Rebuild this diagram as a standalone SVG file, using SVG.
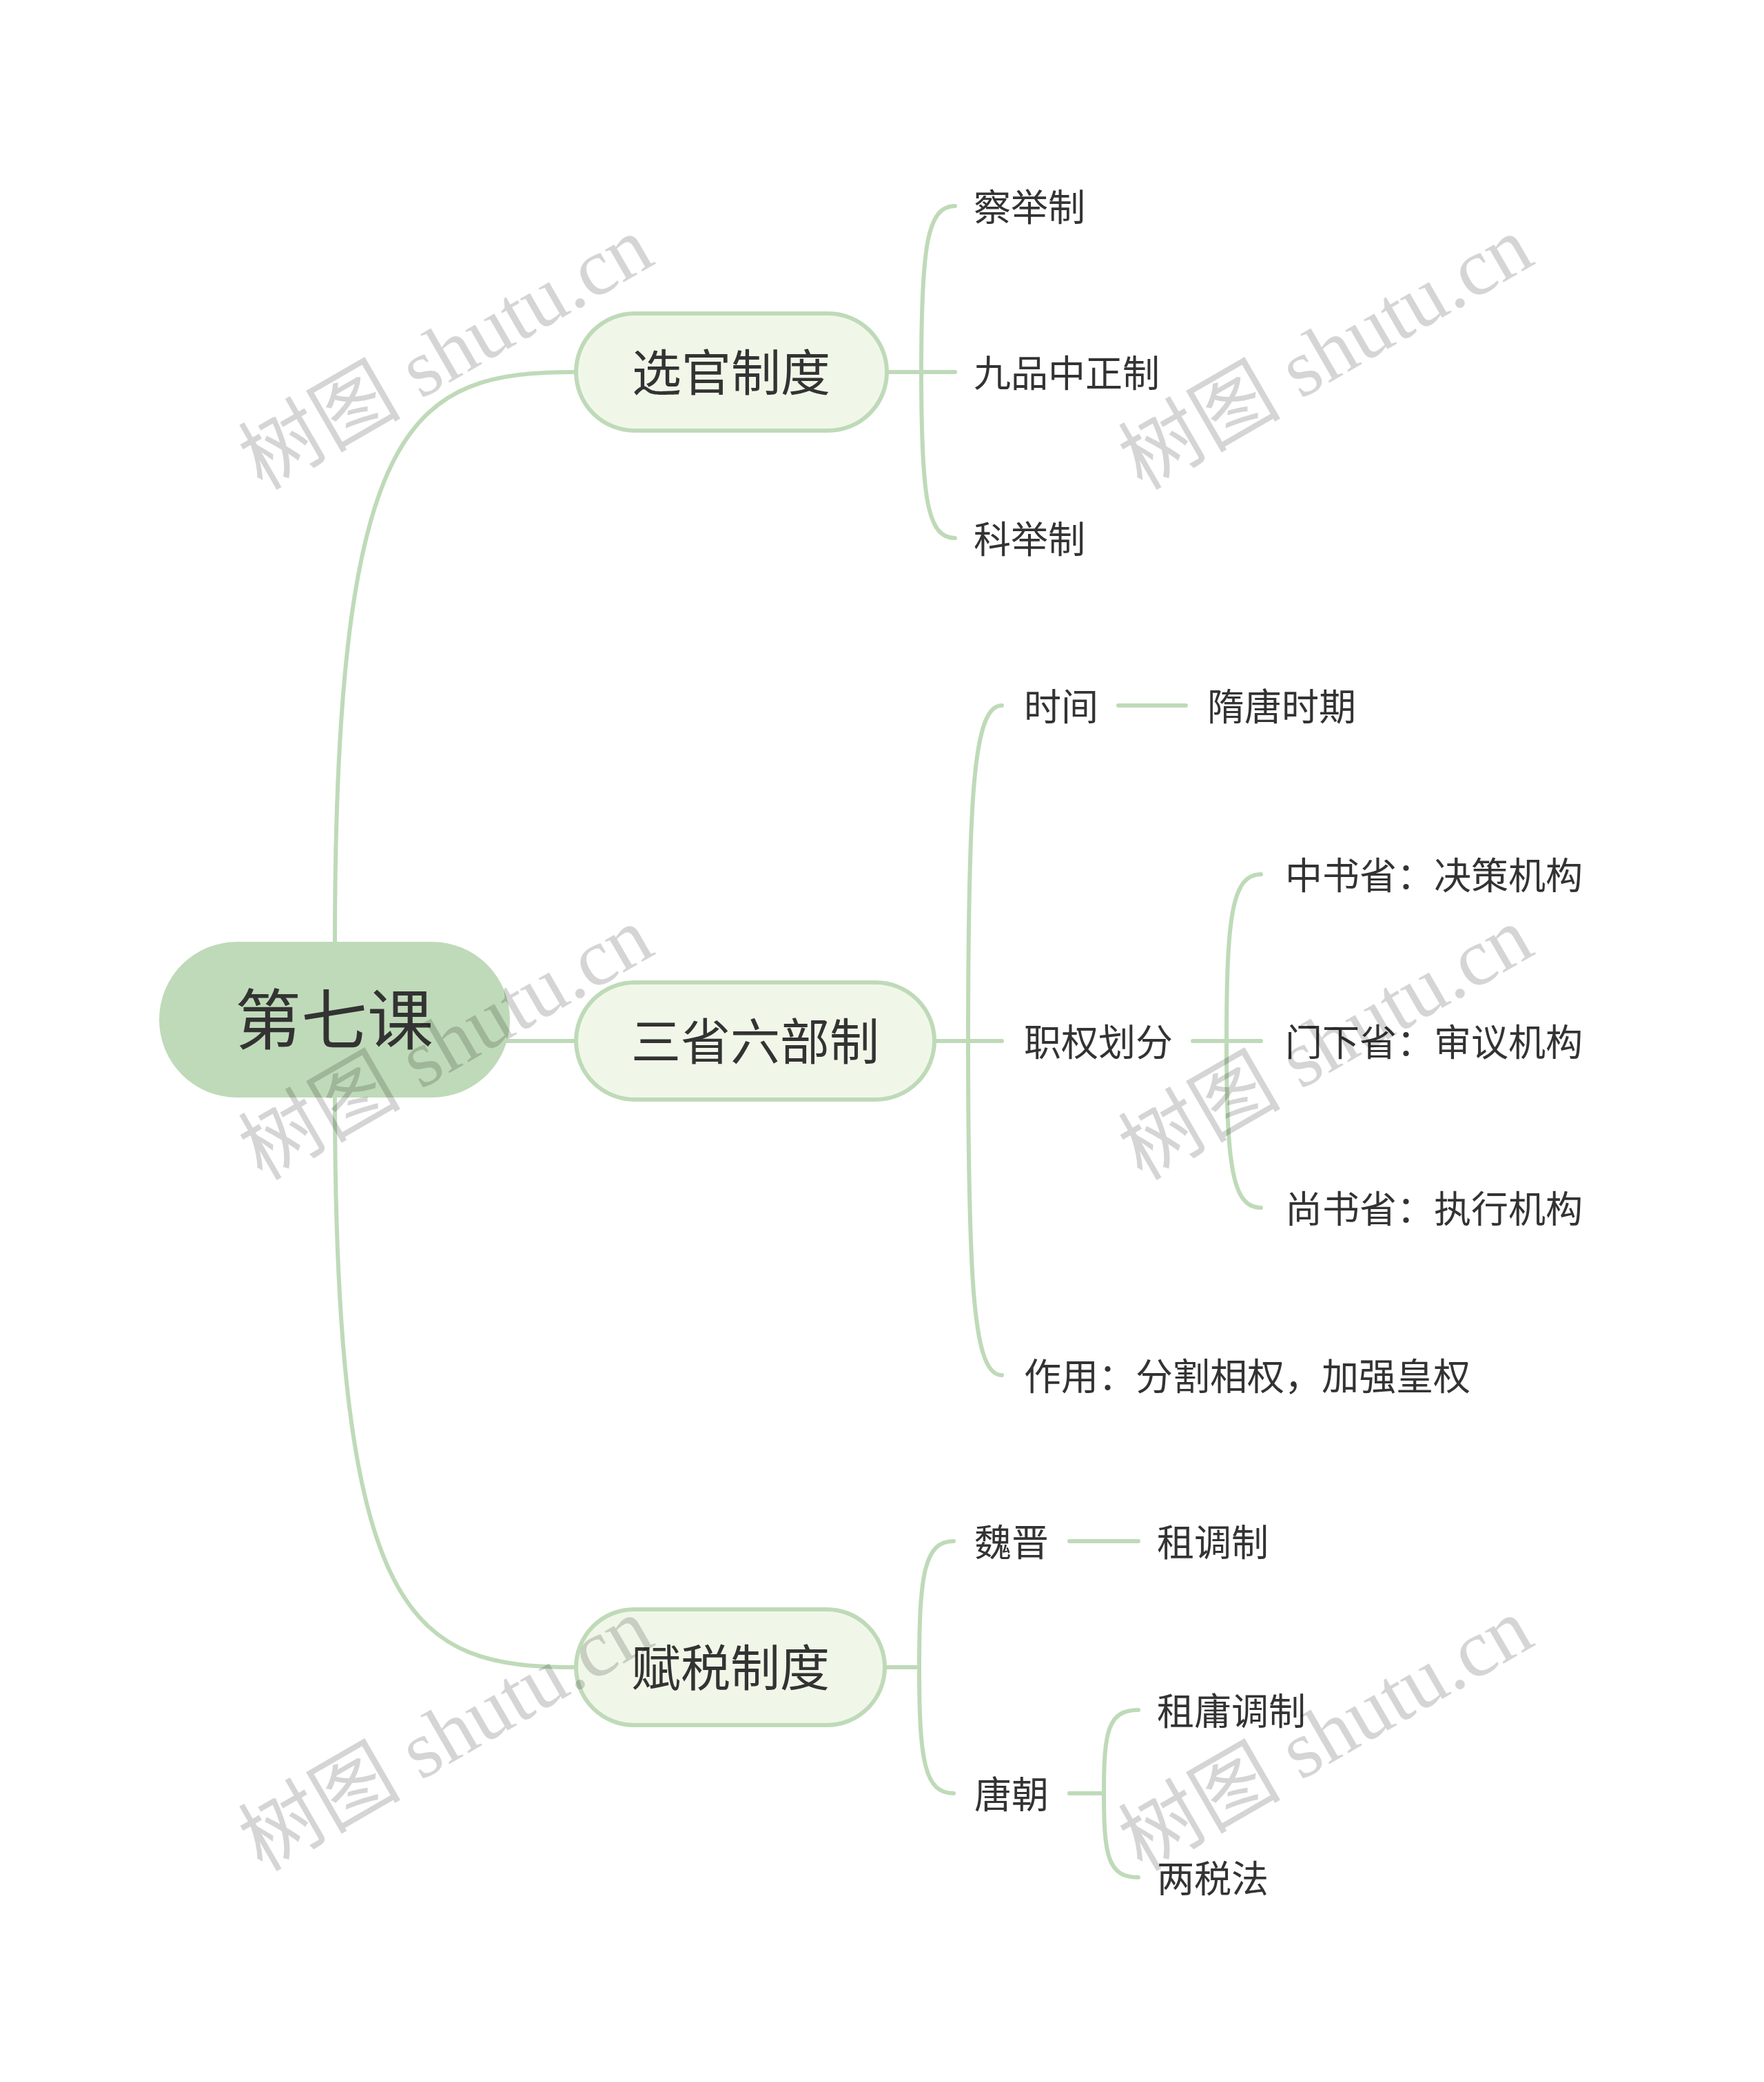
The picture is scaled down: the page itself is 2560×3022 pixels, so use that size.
<svg xmlns="http://www.w3.org/2000/svg" width="2560" height="3022" viewBox="0 0 2560 3022">
<style>
.conn{fill:none;stroke:#bfdab8;stroke-width:6;stroke-linecap:round}
.root{fill:#bfdab8}
.branch{fill:#f0f7e9;stroke:#bfdab8;stroke-width:6}
.t{font-family:"Noto Sans CJK SC","Noto Sans",sans-serif;fill:#333333}
.t0{font-size:96px;text-anchor:middle}
.t1{font-size:72px;text-anchor:middle}
.t2{font-size:54px}
.wm{font-family:"Liberation Serif","Noto Sans CJK SC",serif;font-size:118px;fill:#000;opacity:0.16;text-anchor:middle}
</style>
<rect width="2560" height="3022" fill="#ffffff"/>
<g id="connectors">
<path class="conn" d="M486 1369 C486 600 600 540 836 540"/>
<path class="conn" d="M700 1511 L836 1511"/>
<path class="conn" d="M486 1593 C486 2360 600 2420 836 2420"/>
<path class="conn" d="M1287 540 L1386 540"/>
<path class="conn" d="M1337 540 C1337 360 1345 299 1386 299"/>
<path class="conn" d="M1337 540 C1337 720 1345 781 1386 781"/>
<path class="conn" d="M1356 1511 L1454 1511"/>
<path class="conn" d="M1405 1511 C1405 1150 1413 1024 1454 1024"/>
<path class="conn" d="M1405 1511 C1405 1872 1413 1996 1454 1996"/>
<path class="conn" d="M1623 1024 L1721 1024"/>
<path class="conn" d="M1731 1511 L1830 1511"/>
<path class="conn" d="M1780 1511 C1780 1330 1788 1269 1830 1269"/>
<path class="conn" d="M1780 1511 C1780 1692 1788 1753 1830 1753"/>
<path class="conn" d="M1284 2420 L1334 2420"/>
<path class="conn" d="M1334 2420 C1334 2283 1342 2237 1384 2237"/>
<path class="conn" d="M1334 2420 C1334 2557 1342 2603 1384 2603"/>
<path class="conn" d="M1552 2237 L1652 2237"/>
<path class="conn" d="M1552 2603 L1602 2603"/>
<path class="conn" d="M1602 2603 C1602 2512 1608 2482 1652 2482"/>
<path class="conn" d="M1602 2603 C1602 2694 1608 2725 1652 2725"/>
</g>
<g id="root">
<rect class="root" x="231" y="1367" width="509" height="226" rx="113"/>
<text class="t t0" x="485" y="1515">第七课</text>
</g>
<g id="n-xuanguan">
<rect class="branch" x="836" y="455" width="451" height="170" rx="85"/>
<text class="t t1" x="1061" y="567">选官制度</text>
</g>
<g id="n-sansheng">
<rect class="branch" x="836" y="1426" width="520" height="170" rx="85"/>
<text class="t t1" x="1096" y="1538">三省六部制</text>
</g>
<g id="n-fushui">
<rect class="branch" x="836" y="2336" width="448" height="168" rx="84"/>
<text class="t t1" x="1060" y="2447">赋税制度</text>
</g>
<g id="n-chaju"><text class="t t2" x="1413" y="321">察举制</text></g>
<g id="n-jiupin"><text class="t t2" x="1413" y="562">九品中正制</text></g>
<g id="n-keju"><text class="t t2" x="1413" y="803">科举制</text></g>
<g id="n-shijian"><text class="t t2" x="1486" y="1046">时间</text></g>
<g id="n-suitang"><text class="t t2" x="1752" y="1046">隋唐时期</text></g>
<g id="n-zhiquan"><text class="t t2" x="1486" y="1533">职权划分</text></g>
<g id="n-zhongshu"><text class="t t2" x="1865" y="1291">中书省：决策机构</text></g>
<g id="n-menxia"><text class="t t2" x="1865" y="1533">门下省：审议机构</text></g>
<g id="n-shangshu"><text class="t t2" x="1865" y="1775">尚书省：执行机构</text></g>
<g id="n-zuoyong"><text class="t t2" x="1486" y="2018">作用：分割相权，加强皇权</text></g>
<g id="n-weijin"><text class="t t2" x="1414" y="2259">魏晋</text></g>
<g id="n-zudiao"><text class="t t2" x="1679" y="2259">租调制</text></g>
<g id="n-tangchao"><text class="t t2" x="1414" y="2625">唐朝</text></g>
<g id="n-zuyong"><text class="t t2" x="1679" y="2504">租庸调制</text></g>
<g id="n-liangshui"><text class="t t2" x="1679" y="2747">两税法</text></g>
<g id="watermarks">
<text class="wm" transform="translate(667,547) rotate(-30)">树图 shutu.cn</text>
<text class="wm" transform="translate(1944,547) rotate(-30)">树图 shutu.cn</text>
<text class="wm" transform="translate(667,1549) rotate(-30)">树图 shutu.cn</text>
<text class="wm" transform="translate(1944,1549) rotate(-30)">树图 shutu.cn</text>
<text class="wm" transform="translate(667,2552) rotate(-30)">树图 shutu.cn</text>
<text class="wm" transform="translate(1944,2552) rotate(-30)">树图 shutu.cn</text>
</g>
</svg>
